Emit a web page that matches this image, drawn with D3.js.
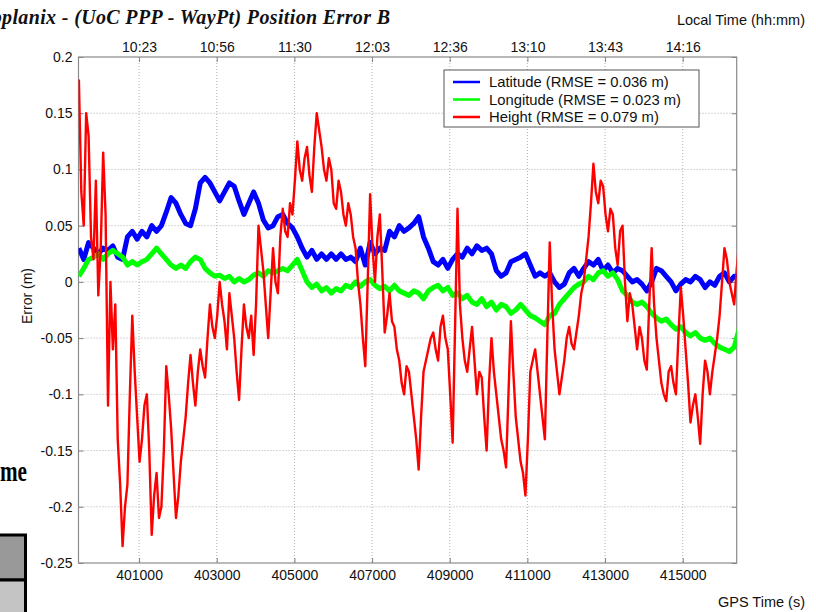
<!DOCTYPE html>
<html><head><meta charset="utf-8">
<script src="https://cdn.jsdelivr.net/npm/d3@7"></script>
<style>body{margin:0;background:#fff} svg{display:block}</style>
</head><body>
<svg id="c" width="816" height="612"></svg>
<script>
// GPS time sampling of the series (s)
const tStart = 399450, tStepLatLon = 125, tStepHeight = 62.5;
const latitude = [0.03,0.02,0.035,0.03,0.025,0.03,0.028,0.032,0.022,0.02,
 0.04,0.045,0.038,0.045,0.04,0.05,0.045,0.05,0.062,0.075,
 0.07,0.06,0.052,0.05,0.065,0.088,0.093,0.088,0.08,0.072,
 0.08,0.088,0.085,0.072,0.06,0.07,0.08,0.07,0.055,0.048,
 0.05,0.058,0.06,0.052,0.048,0.04,0.03,0.022,0.028,0.02,
 0.025,0.02,0.025,0.02,0.025,0.02,0.022,0.018,0.03,0.015,
 0.035,0.025,0.03,0.028,0.045,0.04,0.05,0.045,0.048,0.052,
 0.058,0.04,0.03,0.018,0.015,0.02,0.012,0.02,0.025,0.022,
 0.03,0.025,0.032,0.028,0.03,0.025,0.01,0.005,0.008,0.018,
 0.02,0.022,0.025,0.015,0.005,0.008,0.005,0.008,0.0,-0.005,
 -0.002,0.008,0.012,0.005,0.012,0.018,0.015,0.02,0.01,0.015,
 0.008,0.012,0.01,0.005,0.0,0.002,-0.002,-0.008,0.0,0.012,
 0.01,0.005,0.0,-0.008,-0.002,0.002,0.0,0.005,0.002,-0.005,
 0.0,-0.003,0.005,0.008,0.0,0.005,0.005];
const longitude = [0.005,0.012,0.02,0.022,0.025,0.02,0.025,0.028,0.025,0.022,
 0.015,0.018,0.015,0.018,0.02,0.025,0.03,0.025,0.02,0.015,
 0.012,0.015,0.012,0.018,0.022,0.02,0.012,0.008,0.005,0.006,
 0.003,0.005,0.0,0.003,0.0,0.002,0.006,0.008,0.005,0.01,
 0.008,0.01,0.012,0.01,0.015,0.02,0.01,0.0,-0.005,-0.002,
 -0.008,-0.005,-0.01,-0.006,-0.008,-0.003,-0.005,0.0,-0.004,0.0,
 0.002,-0.003,-0.006,-0.004,-0.008,-0.003,-0.008,-0.01,-0.012,-0.008,
 -0.01,-0.015,-0.008,-0.005,-0.003,-0.008,-0.005,-0.012,-0.01,-0.015,
 -0.012,-0.018,-0.02,-0.015,-0.022,-0.018,-0.025,-0.02,-0.022,-0.028,
 -0.025,-0.02,-0.025,-0.03,-0.032,-0.035,-0.038,-0.03,-0.028,-0.02,
 -0.015,-0.01,-0.005,-0.002,0.0,0.005,0.002,0.008,0.01,0.005,
 0.008,0.002,-0.008,-0.012,-0.018,-0.02,-0.018,-0.022,-0.028,-0.032,
 -0.035,-0.033,-0.038,-0.042,-0.04,-0.045,-0.048,-0.045,-0.05,-0.052,
 -0.05,-0.055,-0.058,-0.06,-0.062,-0.058,-0.042];
const height = [0.18,0.08,0.05,0.15,0.13,0.04,0.02,0.09,-0.012,0.03,
 0.115,0.06,-0.11,0.0,-0.06,-0.02,-0.14,-0.18,-0.235,-0.2,
 -0.18,-0.1,-0.03,-0.08,-0.12,-0.16,-0.14,-0.11,-0.1,-0.15,
 -0.225,-0.19,-0.17,-0.21,-0.2,-0.15,-0.075,-0.1,-0.13,-0.17,
 -0.21,-0.19,-0.16,-0.14,-0.12,-0.09,-0.065,-0.09,-0.11,-0.08,
 -0.06,-0.075,-0.085,-0.05,-0.02,-0.04,-0.05,-0.03,0.0,-0.02,
 -0.035,-0.06,-0.01,-0.03,-0.05,-0.08,-0.105,-0.06,-0.02,-0.04,
 -0.05,-0.03,-0.065,-0.02,0.05,0.03,0.01,-0.02,-0.05,-0.01,
 0.03,0.0,-0.01,0.04,0.065,0.045,0.04,0.07,0.06,0.09,
 0.125,0.1,0.09,0.11,0.12,0.095,0.08,0.12,0.15,0.135,
 0.12,0.1,0.09,0.11,0.1,0.07,0.065,0.09,0.08,0.06,
 0.05,0.07,0.06,0.04,0.03,0.0,-0.02,-0.05,-0.075,0.0,
 0.078,0.03,0.0,0.04,0.06,0.01,-0.045,-0.03,-0.01,-0.035,
 -0.04,-0.06,-0.07,-0.09,-0.1,-0.075,-0.08,-0.1,-0.12,-0.14,
 -0.167,-0.12,-0.08,-0.07,-0.06,-0.05,-0.045,-0.06,-0.07,-0.04,
 -0.03,-0.05,-0.06,-0.1,-0.143,-0.04,0.065,-0.02,-0.05,-0.07,
 -0.08,-0.06,-0.04,-0.07,-0.1,-0.08,-0.085,-0.12,-0.15,-0.09,
 -0.05,-0.08,-0.1,-0.12,-0.14,-0.15,-0.165,-0.1,-0.035,-0.08,
 -0.12,-0.14,-0.16,-0.17,-0.19,-0.14,-0.08,-0.07,-0.06,-0.08,
 -0.1,-0.12,-0.14,-0.05,0.035,-0.02,-0.06,-0.08,-0.1,-0.085,
 -0.07,-0.05,-0.04,-0.055,-0.06,-0.045,-0.03,-0.01,0.0,0.02,
 0.04,0.07,0.105,0.08,0.07,0.09,0.085,0.06,0.045,0.065,
 0.06,0.03,0.015,0.045,0.05,0.0,-0.035,-0.01,-0.02,-0.04,
 -0.06,-0.04,-0.05,-0.07,-0.078,-0.02,0.03,-0.02,-0.05,-0.07,
 -0.09,-0.1,-0.106,-0.08,-0.075,-0.09,-0.1,-0.05,-0.005,-0.03,
 -0.06,-0.09,-0.125,-0.11,-0.1,-0.12,-0.144,-0.1,-0.07,-0.08,
 -0.1,-0.08,-0.065,-0.05,-0.03,0.0,0.03,0.02,0.0,-0.01,
 -0.02,0.01,0.035];
const gpsTicks = [401000,403000,405000,407000,409000,411000,413000,415000];
const localTickLabels = ["10:23","10:56","11:30","12:03","12:36","13:10","13:43","14:16"];
const yTicks = [0.2,0.15,0.1,0.05,0,-0.05,-0.1,-0.15,-0.2,-0.25];
const yTickLabels = ["0.2","0.15","0.1","0.05","0","-0.05","-0.1","-0.15","-0.2","-0.25"];
const seriesNames = ["Latitude (RMSE = 0.036 m)","Longitude (RMSE = 0.023 m)","Height (RMSE = 0.079 m)"];
const seriesColors = ["#0000ff","#00ff00","#ff0000"];

const svg = d3.select("#c");
const L = 78.5, R = 736.7, T = 57, B = 563;
const x = d3.scaleLinear().domain([399440, 416390]).range([L, R]);
const y = d3.scaleLinear().domain([-0.25, 0.2]).range([B, T]);
const font = "Arial, 'Liberation Sans', sans-serif";
const serif = "'Liberation Serif','Times New Roman',serif";

svg.append("rect").attr("width",816).attr("height",612).attr("fill","#fff");

// title (cut at the left edge as in the reference)
svg.append("text").attr("x",-22).attr("y",24)
  .attr("textLength",412).attr("lengthAdjust","spacing")
  .attr("font-family",serif).attr("font-size",20)
  .attr("font-weight","bold").attr("font-style","italic").attr("fill","#111")
  .text("Applanix - (UoC PPP - WayPt) Position Error B");
svg.append("text").attr("x",805).attr("y",25).attr("text-anchor","end")
  .attr("font-family",font).attr("font-size",14.5).attr("fill","#111").text("Local Time (hh:mm)");
svg.append("text").attr("x",805).attr("y",607).attr("text-anchor","end")
  .attr("font-family",font).attr("font-size",14.5).attr("fill","#111").text("GPS Time (s)");
svg.append("text").attr("transform","translate(32,296) rotate(-90)").attr("text-anchor","middle")
  .attr("font-family",font).attr("font-size",14).attr("fill","#111").text("Error (m)");

// fragments of neighbouring page content
svg.append("text").attr("x",27).attr("y",481).attr("text-anchor","end")
  .attr("font-family",serif).attr("font-size",30)
  .attr("font-weight","bold").attr("textLength",27).attr("lengthAdjust","spacingAndGlyphs")
  .attr("fill","#000").text("me");
svg.append("rect").attr("x",-3).attr("y",535).attr("width",28.5).attr("height",45)
  .attr("fill","#999").attr("stroke","#000").attr("stroke-width",3);
svg.append("rect").attr("x",-3).attr("y",580).attr("width",28.5).attr("height",40)
  .attr("fill","#c4c4c4").attr("stroke","#000").attr("stroke-width",3);

// grid
const grid = svg.append("g").attr("stroke","#b0b0b0").attr("stroke-width",1).attr("stroke-dasharray","1,2");
gpsTicks.forEach(t => grid.append("line").attr("x1",x(t)).attr("x2",x(t)).attr("y1",T).attr("y2",B));
yTicks.slice(1,-1).forEach(v => grid.append("line").attr("x1",L).attr("x2",R).attr("y1",y(v)).attr("y2",y(v)));

// axes
const axB = svg.append("g").attr("transform",`translate(0,${B})`)
  .call(d3.axisBottom(x).tickValues(gpsTicks).tickSizeInner(-5).tickSizeOuter(0).tickPadding(7).tickFormat(d3.format("d")));
const axT = svg.append("g").attr("transform",`translate(0,${T})`)
  .call(d3.axisTop(x).tickValues(gpsTicks).tickSizeInner(-5).tickSizeOuter(0).tickPadding(5).tickFormat((d,i)=>localTickLabels[i]));
const axL = svg.append("g").attr("transform",`translate(${L},0)`)
  .call(d3.axisLeft(y).tickValues(yTicks).tickSizeInner(-5).tickSizeOuter(0).tickPadding(6).tickFormat((d,i)=>yTickLabels[i]));
const axR = svg.append("g").attr("transform",`translate(${R},0)`)
  .call(d3.axisRight(y).tickValues(yTicks).tickSizeInner(-5).tickSizeOuter(0).tickFormat(""));
[axB,axT,axL,axR].forEach(g => {
  g.select(".domain").remove();
  g.selectAll(".tick line").attr("stroke","#808080");
  g.selectAll("text").attr("font-family",font).attr("font-size",14).attr("fill","#111");
});
svg.append("rect").attr("x",L).attr("y",T).attr("width",R-L).attr("height",B-T)
  .attr("fill","none").attr("stroke","#8a8a8a").attr("stroke-width",1.2);

// series
svg.append("clipPath").attr("id","clip").append("rect").attr("x",L).attr("y",T).attr("width",R-L).attr("height",B-T);
const plot = svg.append("g").attr("clip-path","url(#clip)");
const series = [
  {v: latitude, step: tStepLatLon, w: 5},
  {v: longitude, step: tStepLatLon, w: 5},
  {v: height, step: tStepHeight, w: 2.4}
];
series.forEach((s,k) => {
  const line = d3.line().x((d,i)=>x(tStart+i*s.step)).y(d=>y(d));
  plot.append("path").attr("d",line(s.v)).attr("fill","none")
    .attr("stroke",seriesColors[k]).attr("stroke-width",s.w).attr("stroke-linejoin","round");
});

// legend
const lg = svg.append("g");
lg.append("rect").attr("x",444).attr("y",70).attr("width",255).attr("height",57)
  .attr("fill","#fff").attr("stroke","#555").attr("stroke-width",1);
seriesNames.forEach((n,k) => {
  const yy = 82 + k*17.5;
  lg.append("line").attr("x1",453).attr("x2",480).attr("y1",yy).attr("y2",yy)
    .attr("stroke",seriesColors[k]).attr("stroke-width",2.5);
  lg.append("text").attr("x",489).attr("y",yy+5).attr("font-family",font).attr("font-size",14.8)
    .attr("fill","#111").text(n);
});
</script>
</body></html>
